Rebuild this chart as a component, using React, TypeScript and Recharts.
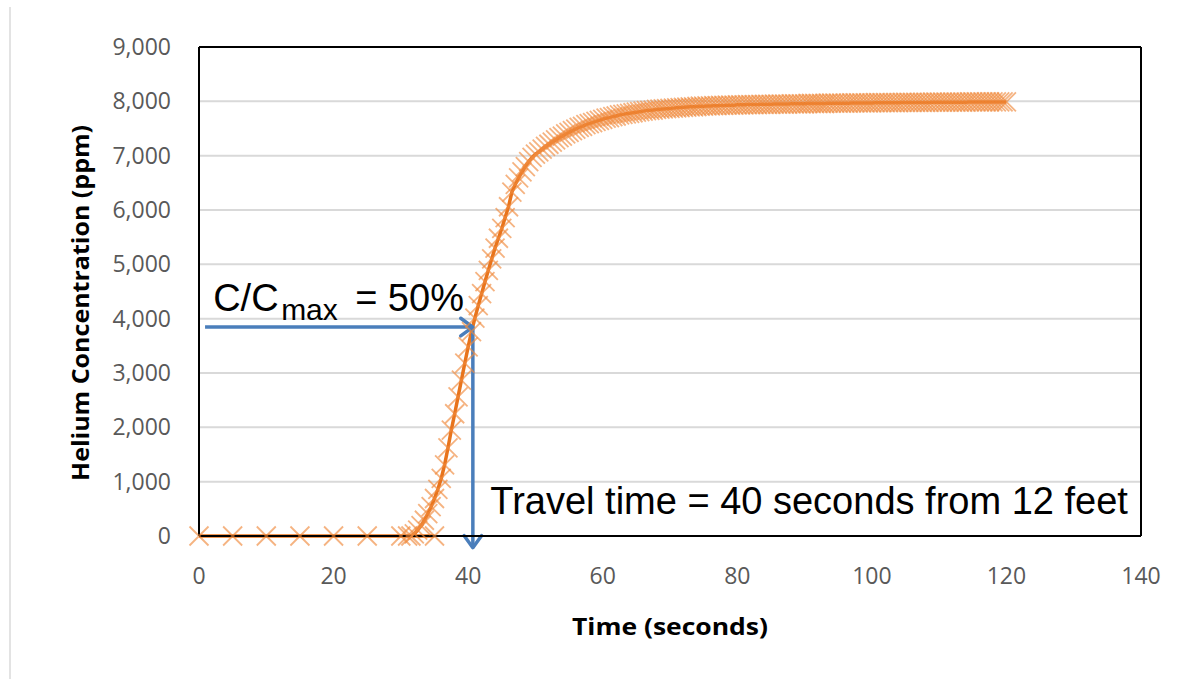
import React from 'react';
import { LineChart, Line, XAxis, YAxis, CartesianGrid, ReferenceLine, ReferenceDot } from 'recharts';

// baseline readings before the helium front arrives
const baseTimes = [0, 5, 10, 15, 20, 25, 30, 35];
const baseValues = [0, 0, 0, 0, 0, 0, 0, 0];

// detailed record, 0.5 s sampling
const riseTimes = [
  31, 31.5, 32, 32.5, 33, 33.5, 34, 34.5, 35, 35.5,
  36, 36.5, 37, 37.5, 38, 38.5, 39, 39.5, 40, 40.5,
  41, 41.5, 42, 42.5, 43, 43.5, 44, 44.5, 45, 45.5,
  46, 46.5, 47, 47.5, 48, 48.5, 49, 49.5, 50, 50.5,
  51, 51.5, 52, 52.5, 53, 53.5, 54, 54.5, 55, 55.5,
  56, 56.5, 57, 57.5, 58, 58.5, 59, 59.5, 60, 60.5,
  61, 61.5, 62, 62.5, 63, 63.5, 64, 64.5, 65, 65.5,
  66, 66.5, 67, 67.5, 68, 68.5, 69, 69.5, 70, 70.5,
  71, 71.5, 72, 72.5, 73, 73.5, 74, 74.5, 75, 75.5,
  76, 76.5, 77, 77.5, 78, 78.5, 79, 79.5, 80, 80.5,
  81, 81.5, 82, 82.5, 83, 83.5, 84, 84.5, 85, 85.5,
  86, 86.5, 87, 87.5, 88, 88.5, 89, 89.5, 90, 90.5,
  91, 91.5, 92, 92.5, 93, 93.5, 94, 94.5, 95, 95.5,
  96, 96.5, 97, 97.5, 98, 98.5, 99, 99.5, 100, 100.5,
  101, 101.5, 102, 102.5, 103, 103.5, 104, 104.5, 105, 105.5,
  106, 106.5, 107, 107.5, 108, 108.5, 109, 109.5, 110, 110.5,
  111, 111.5, 112, 112.5, 113, 113.5, 114, 114.5, 115, 115.5,
  116, 116.5, 117, 117.5, 118, 118.5, 119, 119.5, 120,
];
const riseValues = [
  0, 0, 40, 110, 190, 290, 410, 540, 690, 860,
  1060, 1310, 1620, 1950, 2250, 2560, 2870, 3180, 3480, 3760,
  4010, 4240, 4460, 4680, 4890, 5100, 5300, 5480, 5660, 5860,
  6060, 6330, 6470, 6590, 6700, 6800, 6890, 6970, 7030, 7070,
  7120, 7170, 7210, 7250, 7290, 7330, 7360, 7400, 7430, 7460,
  7490, 7520, 7540, 7570, 7590, 7610, 7630, 7650, 7670, 7690,
  7700, 7720, 7730, 7750, 7760, 7770, 7780, 7790, 7800, 7810,
  7820, 7830, 7835, 7840, 7850, 7855, 7860, 7865, 7870, 7875,
  7880, 7885, 7890, 7895, 7900, 7900, 7905, 7910, 7910, 7915,
  7915, 7920, 7920, 7925, 7925, 7930, 7930, 7930, 7935, 7935,
  7935, 7940, 7940, 7940, 7940, 7945, 7945, 7945, 7945, 7950,
  7950, 7950, 7950, 7950, 7955, 7955, 7955, 7955, 7955, 7960,
  7960, 7960, 7960, 7960, 7960, 7965, 7965, 7965, 7965, 7965,
  7965, 7965, 7970, 7970, 7970, 7970, 7970, 7970, 7970, 7975,
  7975, 7975, 7975, 7975, 7975, 7975, 7975, 7980, 7980, 7980,
  7980, 7980, 7980, 7980, 7980, 7980, 7985, 7985, 7985, 7985,
  7985, 7985, 7985, 7985, 7985, 7985, 7985, 7990, 7990, 7990,
  7990, 7990, 7990, 7990, 7990, 7990, 7990, 7990, 7990,
];

const xTicks = [0, 20, 40, 60, 80, 100, 120, 140];
const yTicks = [0, 1000, 2000, 3000, 4000, 5000, 6000, 7000, 8000, 9000];

// annotation anchors (data coordinates)
const halfLevel = 3845;
const travelTime = 40.7;

const baseData = baseTimes.map((t, i) => ({ t, v: baseValues[i] }));
const riseData = riseTimes.map((t, i) => ({ t, v: riseValues[i] }));

const ORANGE = '#E8741C';
const MARK = '#F08A3E';
const BLUE = '#4A7EBB';
const TICK = '#595959';

function XMark(p: any) {
  const { cx, cy, index } = p;
  if (cx == null || cy == null) return null;
  const r = 9.5;
  return (
    <path
      key={`m-${index}`}
      d={`M${cx - r},${cy - r}L${cx + r},${cy + r}M${cx - r},${cy + r}L${cx + r},${cy - r}`}
      stroke={MARK}
      strokeOpacity={0.65}
      strokeWidth={1.8}
      fill="none"
    />
  );
}

function Arrow(p: any) {
  const { x1, y1, x2, y2 } = p;
  const ang = Math.atan2(y2 - y1, x2 - x1);
  const len = 15;
  const spread = Math.PI / 5;
  const ax = x2 - len * Math.cos(ang - spread);
  const ay = y2 - len * Math.sin(ang - spread);
  const bx = x2 - len * Math.cos(ang + spread);
  const by = y2 - len * Math.sin(ang + spread);
  return (
    <g>
      <line x1={x1} y1={y1} x2={x2} y2={y2} stroke={BLUE} strokeWidth={3.5} />
      <path d={`M${ax},${ay}L${x2},${y2}L${bx},${by}`} stroke={BLUE} strokeWidth={3.5} fill="none" strokeLinecap="round" strokeLinejoin="round" />
    </g>
  );
}

function HalfLabel(p: any) {
  const { cx, cy } = p;
  return (
    <text x={cx} y={cy} fontFamily="'Liberation Sans', Arial, sans-serif" fontSize={38} fill="#000">
      <tspan>C/C</tspan>
      <tspan x={cx + 68} dy={9} fontSize={30}>max</tspan>
      <tspan x={cx + 142} dy={-9}>= 50%</tspan>
    </text>
  );
}

function TravelLabel(p: any) {
  const { cx, cy } = p;
  return (
    <text x={cx} y={cy} fontFamily="'Liberation Sans', Arial, sans-serif" fontSize={38} fill="#000">
      Travel time = 40 seconds from 12 feet
    </text>
  );
}

export default function App() {
  return (
    <div style={{ position: 'absolute', left: 0, top: 0, width: 1193, height: 679, background: '#fff' }}>
      <div style={{ position: 'absolute', left: 9, top: 7, width: 2, height: 672, background: '#E3E3E3' }} />
      <LineChart width={1193} height={679} margin={{ top: 47, right: 52, bottom: 83, left: 0 }}>
        <CartesianGrid horizontal vertical={false} stroke="#D9D9D9" strokeWidth={2} />
        <XAxis
          dataKey="t"
          type="number"
          domain={[0, 140]}
          ticks={xTicks}
          height={60}
          tickLine={false}
          axisLine={{ stroke: '#000', strokeWidth: 2 }}
          tickMargin={26}
          tick={{ fill: TICK, fontSize: 23, fontFamily: "'Open Sans', sans-serif" }}
        />
        <YAxis
          type="number"
          domain={[0, 9000]}
          ticks={yTicks}
          width={199}
          tickLine={false}
          axisLine={{ stroke: '#000', strokeWidth: 2 }}
          tickMargin={22}
          tickFormatter={(v: number) => v.toLocaleString('en-US')}
          tick={{ fill: TICK, fontSize: 23, fontFamily: "'Open Sans', sans-serif" }}
        />
        <ReferenceLine y={9000} stroke="#000" strokeWidth={2} />
        <ReferenceLine x={140} stroke="#000" strokeWidth={2} />
        <Line
          data={baseData}
          dataKey="v"
          stroke={ORANGE}
          strokeWidth={3.5}
          dot={XMark}
          isAnimationActive={false}
        />
        <Line
          data={riseData}
          dataKey="v"
          stroke={ORANGE}
          strokeWidth={3.5}
          dot={XMark}
          isAnimationActive={false}
        />
        <ReferenceLine
          segment={[{ x: 0.9, y: halfLevel }, { x: travelTime, y: halfLevel }]}
          ifOverflow="visible"
          shape={Arrow}
        />
        <ReferenceLine
          segment={[{ x: travelTime, y: halfLevel }, { x: travelTime, y: -215 }]}
          ifOverflow="visible"
          shape={Arrow}
        />
        <ReferenceDot x={2.1} y={4150} ifOverflow="visible" shape={HalfLabel} />
        <ReferenceDot x={43.3} y={410} ifOverflow="visible" shape={TravelLabel} />
        <text
          x={80}
          y={303}
          transform="rotate(-90 80 303)"
          textAnchor="middle"
          dominantBaseline="central"
          fontFamily="'Open Sans', sans-serif"
          fontWeight={700}
          fontSize={23}
          textLength={356}
          lengthAdjust="spacingAndGlyphs"
          fill="#000"
        >
          Helium Concentration (ppm)
        </text>
        <text
          x={670}
          y={635}
          textAnchor="middle"
          fontFamily="'Open Sans', sans-serif"
          fontWeight={700}
          fontSize={24}
          textLength={196}
          lengthAdjust="spacingAndGlyphs"
          fill="#000"
        >
          Time (seconds)
        </text>
      </LineChart>
    </div>
  );
}
